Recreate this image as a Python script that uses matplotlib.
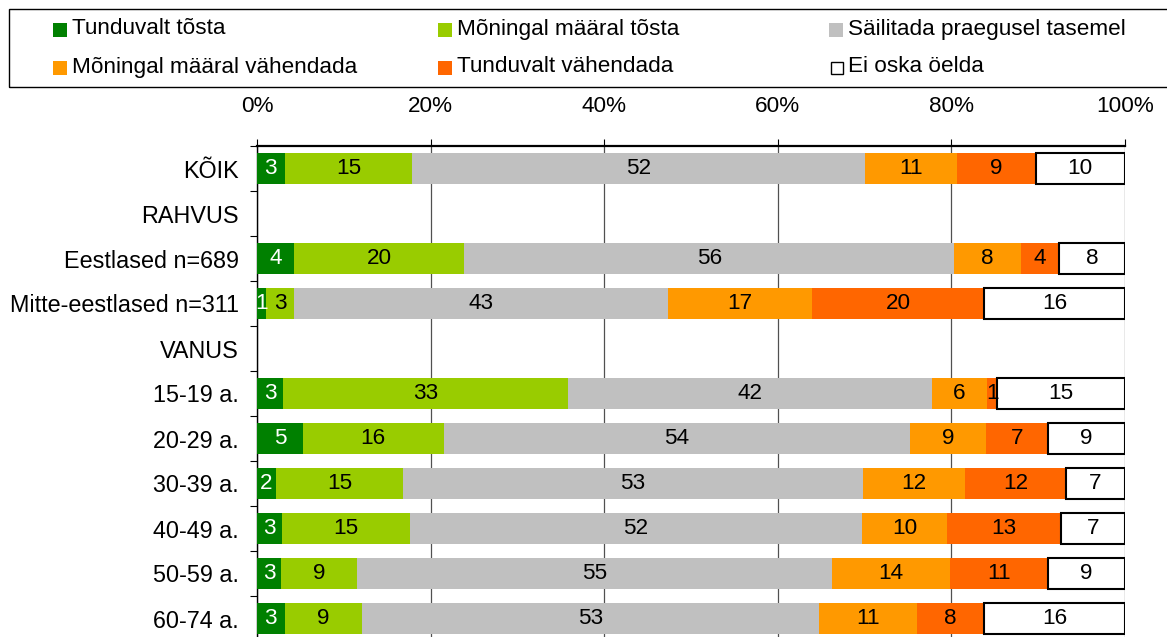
import numpy as np
import matplotlib
matplotlib.use('Agg')
import matplotlib.pyplot as plt
from matplotlib.patches import Rectangle

plt.rcParams['font.family'] = ['Liberation Sans', 'DejaVu Sans']

rows = ['KÕIK', 'RAHVUS', 'Eestlased n=689', 'Mitte-eestlased n=311', 'VANUS',
        '15-19 a.', '20-29 a.', '30-39 a.', '40-49 a.', '50-59 a.', '60-74 a.']

series = ['Tunduvalt tõsta', 'Mõningal määral tõsta', 'Säilitada praegusel tasemel',
          'Mõningal määral vähendada', 'Tunduvalt vähendada', 'Ei oska öelda']
colors = ['#008000', '#99CC00', '#C0C0C0', '#FF9900', '#FF6600', '#FFFFFF']
text_colors = ['white', 'black', 'black', 'black', 'black', 'black']

# shares per row (%), header rows have no bars
tunduvalt_tosta = [3.2, np.nan, 4.3, 1.0, np.nan, 3.0, 5.3, 2.2, 2.9, 2.8, 3.2]
moningal_tosta = [14.7, np.nan, 19.6, 3.3, np.nan, 32.8, 16.2, 14.6, 14.7, 8.7, 8.9]
sailitada = [52.1, np.nan, 56.4, 43.0, np.nan, 42.0, 53.7, 53.0, 52.1, 54.7, 52.6]
moningal_vahendada = [10.6, np.nan, 7.7, 16.6, np.nan, 6.3, 8.8, 11.8, 9.8, 13.6, 11.3]
tunduvalt_vahendada = [9.1, np.nan, 4.4, 19.9, np.nan, 1.2, 7.1, 11.6, 13.1, 11.3, 7.8]
ei_oska = [10.3, np.nan, 7.6, 16.2, np.nan, 14.7, 8.9, 6.8, 7.4, 8.9, 16.2]

data = [tunduvalt_tosta, moningal_tosta, sailitada, moningal_vahendada, tunduvalt_vahendada, ei_oska]

fs = 16.2
W, H = 1167, 637
fig = plt.figure(figsize=(W / 100, H / 100), dpi=100)
ax = fig.add_axes([257 / W, 1 - 641 / H, (1125 - 257) / W, (641 - 146) / H])

y = np.arange(len(rows))
left = np.zeros(len(rows))
for vals, col, tcol in zip(data, colors, text_colors):
    vals = np.array(vals)
    ok = ~np.isnan(vals)
    edge = 'black' if col == '#FFFFFF' else 'none'
    ax.barh(y[ok], vals[ok], left=left[ok], height=0.67, color=col,
            edgecolor=edge, linewidth=1.5 if edge == 'black' else 0, zorder=3)
    for yi in y[ok]:
        ax.text(left[yi] + vals[yi] / 2, yi, f'{vals[yi]:.0f}', ha='center', va='center',
                color=tcol, fontsize=fs, zorder=4)
    left[ok] += vals[ok]

ax.set_xlim(0, 100)
ax.set_ylim(len(rows) - 0.5, -0.5)
ax.set_xticks(range(0, 101, 20))
ax.set_xticklabels([f'{t}%' for t in range(0, 101, 20)])
ax.xaxis.tick_top()
ax.tick_params(axis='x', length=5, width=0.8, pad=16, labelsize=fs, direction='out')
ax.set_yticks(y)
ax.set_yticklabels(rows)
ax.set_yticks(np.arange(-0.5, len(rows)), minor=True)
ax.tick_params(axis='y', which='major', length=0, pad=13, labelsize=16.8)
ax.tick_params(axis='y', which='minor', length=5, width=0.8, direction='out')
ax.grid(axis='x', color='#505050', linewidth=0.9, zorder=0)
ax.spines['right'].set_visible(False)
ax.spines['bottom'].set_visible(False)
ax.spines['top'].set_linewidth(1.6)
ax.spines['left'].set_linewidth(1.0)

# legend frame and entries
fig.patches.append(Rectangle((9 / W, 1 - 87 / H), 1.0, 78 / H, transform=fig.transFigure,
                             facecolor='none', edgecolor='black', linewidth=1.0))
col_x = [53, 438, 829]
row_y = [29, 67]
for i, (name, col) in enumerate(zip(series, colors)):
    x0 = col_x[i % 3]
    y0 = row_y[i // 3]
    white = col == '#FFFFFF'
    sz = 12 if white else 14
    fig.patches.append(Rectangle(((x0 + 14 - sz) / W, 1 - (y0 + sz / 2 + 1) / H), sz / W, sz / H,
                                 transform=fig.transFigure, facecolor=col,
                                 edgecolor='black' if white else 'none', linewidth=1))
    fig.text((x0 + 19) / W, 1 - y0 / H, name, ha='left', va='center', fontsize=fs)

fig.savefig('out.png', dpi=100)
